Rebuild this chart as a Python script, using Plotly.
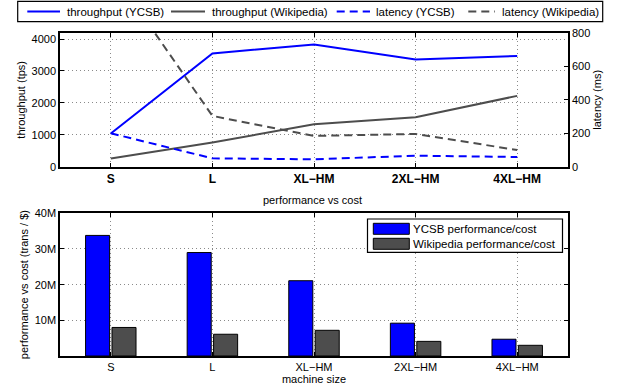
import plotly.graph_objects as go

categories = ["S", "L", "XL\u2212HM", "2XL\u2212HM", "4XL\u2212HM"]
cat_pos = [1, 2, 3, 4, 5]

throughput_ycsb = [1040, 3550, 3830, 3360, 3470]
throughput_wiki = [260, 760, 1330, 1550, 2220]
latency_ycsb = [200, 50, 44, 66, 58]
latency_wiki = [1180, 304, 184, 196, 100]

perfcost_ycsb = [33.8e6, 29.0e6, 21.1e6, 9.2e6, 4.7e6]
perfcost_wiki = [8.0e6, 6.1e6, 7.2e6, 4.1e6, 3.0e6]

top_left_ticks = [0, 1000, 2000, 3000, 4000]
top_right_ticks = [0, 200, 400, 600, 800]
bottom_tickvals = [10e6, 20e6, 30e6, 40e6]
bottom_ticktext = ["10M", "20M", "30M", "40M"]

line_names = ["throughput (YCSB)", "throughput (Wikipedia)", "latency (YCSB)", "latency (Wikipedia)"]
bar_names = ["YCSB performance/cost", "Wikipedia performance/cost"]

BLUE = "#0000FF"
GREY = "#4D4D4D"
DASH = "8px,5px"
FONT = "Liberation Sans, Arial, Helvetica, sans-serif"
W, H = 618, 391

fig = go.Figure()

line_styles = [(BLUE, "solid", "y"), (GREY, "solid", "y"), (BLUE, DASH, "y3"), (GREY, DASH, "y3")]
for nm, ys, (col, dash, yax) in zip(line_names,
                                    [throughput_ycsb, throughput_wiki, latency_ycsb, latency_wiki],
                                    line_styles):
    fig.add_trace(go.Scatter(x=cat_pos, y=ys, mode="lines", name=nm, showlegend=False,
                             line=dict(color=col, width=2, dash=dash), xaxis="x", yaxis=yax))

fig.add_trace(go.Bar(x=cat_pos, y=perfcost_ycsb, name=bar_names[0], showlegend=False,
                     marker=dict(color=BLUE, line=dict(color="black", width=1)),
                     xaxis="x2", yaxis="y2"))
fig.add_trace(go.Bar(x=cat_pos, y=perfcost_wiki, name=bar_names[1], showlegend=False,
                     marker=dict(color=GREY, line=dict(color="black", width=1)),
                     xaxis="x2", yaxis="y2"))

xdom = [60 / W, 568 / W]
grid = dict(showgrid=True, gridcolor="#8a8a8a", griddash="1px,3px", gridwidth=1)
axbase = dict(showline=True, linecolor="black", linewidth=1.5, ticks="inside", ticklen=4,
              tickcolor="black", zeroline=False, automargin=False,
              tickfont=dict(family=FONT, size=11, color="black"))


def px(x, y):
    return x / W, 1 - y / H


shapes = []
annotations = [dict(text="performance vs cost", x=0.505, xref="paper", y=1 - 200 / H, yref="paper",
                    xanchor="center", yanchor="middle", showarrow=False,
                    font=dict(family=FONT, size=11, color="black"))]


def rect(x0, y0, x1, y1, fill, lw):
    a0, b0 = px(x0, y0)
    a1, b1 = px(x1, y1)
    shapes.append(dict(type="rect", xref="paper", yref="paper", x0=a0, x1=a1, y0=b1, y1=b0,
                       line=dict(color="black", width=lw), fillcolor=fill, layer="above"))


def label(text, x, y, size):
    a, b = px(x, y)
    annotations.append(dict(text=text, x=a, y=b, xref="paper", yref="paper", xanchor="left",
                            yanchor="middle", showarrow=False,
                            font=dict(family=FONT, size=size, color="black")))


# top legend (horizontal)
rect(17.7, 1.3, 602.7, 21.7, "white", 1.2)
line_x = [(27.3, 60), (171, 205), (336.7, 370), (468.3, 495)]
text_x = [65, 210, 374.3, 500]
for (lx0, lx1), tx, nm, (col, dash, _) in zip(line_x, text_x, line_names, line_styles):
    a0, b = px(lx0, 11.5)
    a1, _b = px(lx1, 11.5)
    shapes.append(dict(type="line", xref="paper", yref="paper", x0=a0, x1=a1, y0=b, y1=b,
                       line=dict(color=col, width=2, dash=dash), layer="above"))
    label(nm, tx, 11.5, 11.5)

# bottom legend (vertical, wide swatches)
rect(367.5, 219, 562.5, 252.3, "white", 1.2)
rows = [(223.3, 234.3), (238.3, 249.3)]
for (t, b), col, nm in zip(rows, [BLUE, GREY], bar_names):
    rect(373.3, t, 409.3, b, col, 1)
    label(nm, 410.5, (t + b) / 2, 11.5)

fig.update_layout(
    width=W, height=H,
    margin=dict(l=0, r=0, t=0, b=0, autoexpand=False),
    paper_bgcolor="white", plot_bgcolor="white",
    font=dict(family=FONT, size=11, color="black"),
    barmode="group", bargap=0.48, bargroupgap=0.09,
    showlegend=False,
    xaxis=dict(domain=xdom, anchor="y", range=[0.5, 5.5], tickvals=cat_pos, ticktext=categories,
               mirror="ticks", **axbase, **grid),
    yaxis=dict(domain=[1 - 166.7 / H, 1 - 33 / H], anchor="x", range=[0, 4190],
               tickvals=top_left_ticks, title=dict(text="throughput (tps)", standoff=4, font=dict(size=11)),
               **axbase, **grid),
    yaxis3=dict(overlaying="y", side="right", anchor="x", range=[0, 800], tickvals=top_right_ticks,
                title=dict(text="latency (ms)", standoff=4, font=dict(size=11)), showgrid=False,
                showline=True, linecolor="black", linewidth=1.5, ticks="inside", ticklen=4,
                tickcolor="black", zeroline=False, automargin=False,
                tickfont=dict(family=FONT, size=11, color="black")),
    xaxis2=dict(domain=xdom, anchor="y2", range=[0.5, 5.5], tickvals=cat_pos, ticktext=categories,
                mirror="ticks", title=dict(text="machine size", standoff=2, font=dict(size=11)),
                **axbase, **grid),
    yaxis2=dict(domain=[1 - 356 / H, 1 - 213.3 / H], anchor="x2", range=[0, 40e6],
                tickvals=bottom_tickvals, ticktext=bottom_ticktext, mirror="ticks",
                title=dict(text="performance vs cost (trans / $)", standoff=4, font=dict(size=11)),
                **axbase, **grid),
    shapes=shapes,
    annotations=annotations,
)
fig.update_xaxes(tickfont=dict(weight="bold", size=12), selector=dict(anchor="y"))

fig.write_html("out.html", config={"displayModeBar": False},
               post_script="document.body.style.margin='0';")
